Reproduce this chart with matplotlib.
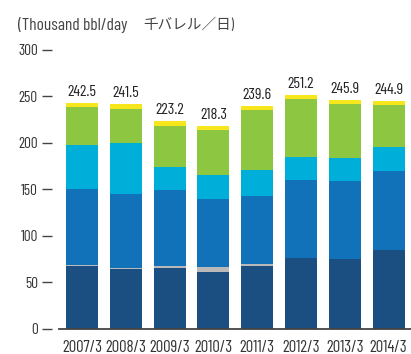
import matplotlib
matplotlib.use("Agg")
import matplotlib.pyplot as plt
import numpy as np

years = ["2007/3", "2008/3", "2009/3", "2010/3", "2011/3", "2012/3", "2013/3", "2014/3"]
navy = [67.3, 64.5, 65.0, 60.8, 67.2, 76.0, 75.0, 85.0]
grey = [1.0, 1.0, 2.2, 5.4, 2.0, 0.0, 0.0, 0.0]
blue = [81.9, 79.3, 81.9, 73.3, 73.5, 83.9, 83.8, 84.6]
cyan = [47.3, 54.9, 24.8, 25.8, 27.9, 24.7, 24.7, 25.8]
green = [41.2, 36.5, 44.1, 48.3, 64.5, 62.3, 58.1, 45.1]
yellow = [3.8, 5.3, 5.2, 4.7, 4.5, 4.3, 4.3, 4.4]
totals = [242.5, 241.5, 223.2, 218.3, 239.6, 251.2, 245.9, 244.9]

layers = [navy, grey, blue, cyan, green, yellow]
colors = ["#1b4f82", "#b9b9b9", "#1172ba", "#00afd9", "#8dc641", "#f7e61c"]

plt.rcParams['font.family'] = ['Barlow Condensed', 'Noto Sans CJK JP', 'DejaVu Sans']

fig = plt.figure(figsize=(4.11, 3.54), dpi=100)
ax = fig.add_axes([0.1436, 0.0715, 0.8564, 0.788])

x = np.arange(len(years))
bottom = np.zeros(len(years))
for vals, c in zip(layers, colors):
    ax.bar(x, vals, bottom=bottom, width=0.73, color=c, linewidth=0)
    bottom += np.array(vals)

for xi, t in zip(x, totals):
    ax.text(xi, t + 4, f"{t:.1f}", ha="center", va="bottom", fontsize=11.5, color="#222222")

ax.set_xlim(-0.525, 7.51)
ax.set_ylim(0, 300)
ax.set_yticks([0, 50, 100, 150, 200, 250, 300])
ax.set_xticks(x)
ax.set_xticklabels(years, fontsize=12, color="#333333")

for s in ["top", "right", "left"]:
    ax.spines[s].set_visible(False)
ax.spines["left"].set_position(("outward", 5))
ax.spines["bottom"].set_color("#444444")
ax.spines["bottom"].set_linewidth(1.3)
ax.tick_params(axis="y", length=7.2, width=1, color="#444444", labelsize=11,
               labelcolor="#333333", pad=3)
ax.tick_params(axis="x", length=0, pad=8)

# unit label: latin part and japanese part set separately
fig.text(0.043, 0.929, "(Thousand bbl/day", fontsize=12.5,
         color="#444444", va="center", ha="left")
fig.text(0.348, 0.929, "千バレル／日)", fontsize=10.5,
         color="#444444", va="center", ha="left")

fig.savefig("out.png", dpi=100)
